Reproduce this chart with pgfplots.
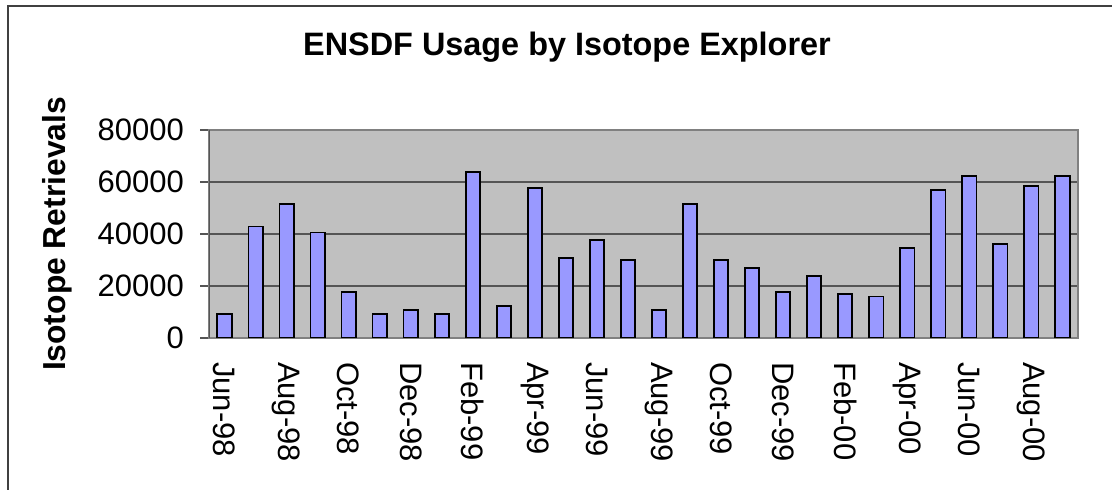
\documentclass[border=0pt]{standalone}
\usepackage{fontspec}
\setmainfont{Liberation Sans}
\usepackage{pgfplots}
\pgfplotsset{compat=1.18}
\definecolor{barfill}{RGB}{153,153,255}
\definecolor{plotbg}{RGB}{192,192,192}
\definecolor{gridc}{RGB}{85,85,85}
\begin{document}
\begin{tikzpicture}
\useasboundingbox (0,0) rectangle (556pt,-245pt);
% outer chart frame (only top and left edges fall inside the picture)
\draw[line width=1.2pt, black!75] (4pt,-300pt) -- (4pt,-3pt) -- (600pt,-3pt);
\node[font=\fontsize{16.2}{19}\selectfont\bfseries] at (283.5pt,-23.5pt) {ENSDF Usage by Isotope Explorer};
\node[rotate=90, font=\fontsize{15.9}{19}\selectfont\bfseries] at (28.5pt,-117pt) {Isotope Retrievals};
\begin{axis}[
  at={(104.5pt,-169pt)}, anchor=south west,
  scale only axis, width=434.5pt, height=104pt,
  ybar, bar width=0.46,
  xmin=-0.5, xmax=27.5, ymin=0, ymax=80000,
  ytick={0,20000,40000,60000,80000},
  xtick={0,2,...,26},
  xticklabels={Jun-98,Aug-98,Oct-98,Dec-98,Feb-99,Apr-99,Jun-99,Aug-99,Oct-99,Dec-99,Feb-00,Apr-00,Jun-00,Aug-00},
  scaled y ticks=false,
  /pgf/number format/assume math mode=true,
  /pgf/number format/fixed,
  /pgf/number format/set thousands separator={},
  yticklabel style={font=\fontsize{15.5}{18}\selectfont, xshift=-4.5pt},
  xticklabel style={font=\fontsize{15.5}{18}\selectfont, rotate=-90, anchor=west},
  xticklabel shift=4pt,
  xtick style={draw=none},
  ytick pos=left,
  tick align=outside,
  major tick length=4.5pt,
  ytick style={gridc, line width=0.9pt},
  ymajorgrids, grid style={gridc, line width=0.9pt},
  axis line style={gray, line width=0.9pt},
  axis background/.style={fill=plotbg},
]
\addplot[fill=barfill, draw=black, line width=0.9pt] coordinates {
  (0,9100) (1,42900) (2,51500) (3,40600) (4,17600) (5,9100) (6,10700)
  (7,9100) (8,63800) (9,12200) (10,57600) (11,30800) (12,37600) (13,29900)
  (14,10700) (15,51500) (16,29900) (17,27000) (18,17600) (19,23900) (20,16800)
  (21,16000) (22,34700) (23,57000) (24,62300) (25,36100) (26,58500) (27,62300)
};
\draw[gridc, line width=0.9pt] (rel axis cs:0,0) -- (rel axis cs:0,1);
\end{axis}
\end{tikzpicture}
\end{document}
